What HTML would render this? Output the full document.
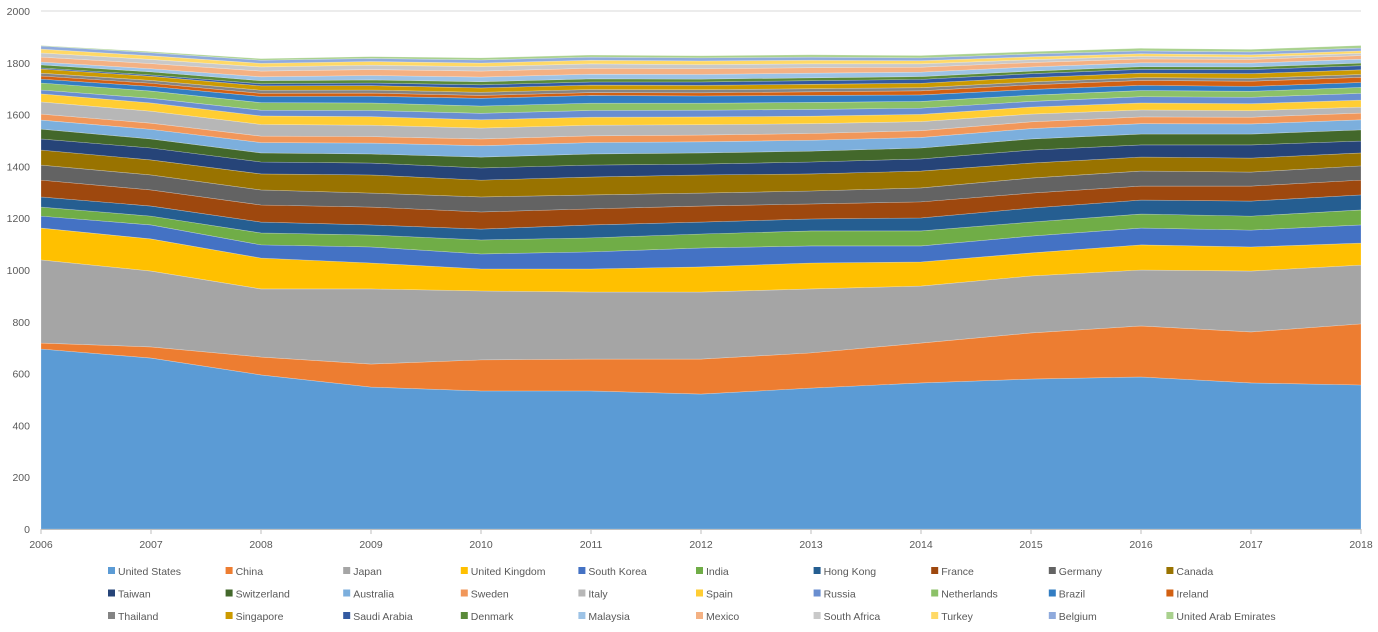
<!DOCTYPE html>
<html><head><meta charset="utf-8"><style>
body{margin:0;background:#fff;font-family:"Liberation Sans",sans-serif;}
svg text{font-family:"Liberation Sans",sans-serif;font-size:10.5px;fill:#595959;}
</style></head><body>
<svg id="chart" width="1378" height="627" xmlns="http://www.w3.org/2000/svg">
<g id="grid"></g>
<g id="areas"></g>
<g id="axes"></g>
<g id="legend"></g>
</svg>
<script>
const years=[2006,2007,2008,2009,2010,2011,2012,2013,2014,2015,2016,2017,2018];
const yTicks=[0,200,400,600,800,1000,1200,1400,1600,1800,2000];
const seriesNames=["United States","China","Japan","United Kingdom","South Korea","India","Hong Kong","France","Germany","Canada","Taiwan","Switzerland","Australia","Sweden","Italy","Spain","Russia","Netherlands","Brazil","Ireland","Thailand","Singapore","Saudi Arabia","Denmark","Malaysia","Mexico","South Africa","Turkey","Belgium","United Arab Emirates"];
const usVals=[695,660,595,548,533,533,521,544,564,579,587,564,556];
const chinaVals=[23,43,69,89,120,123,135,136,154,178,197,197,236];
const japanVals=[321,293,263,290,266,259,259,247,220,220,216,235,227];
const ukVals=[123,124,119,100,85,89,97,100,93,89,97,93,85];
const koreaVals=[46,54,51,62,58,66,73,66,62,65,65,65,70];
const indiaVals=[35,34,46,46,54,54,54,58,58,54,54,54,58];
const hkVals=[39,39,42,39,42,50,46,46,50,54,54,58,58];
const franceVals=[65,62,66,69,66,62,62,58,62,58,54,58,57];
const germanyVals=[58,58,58,54,58,54,50,50,54,58,58,54,55];
const canadaVals=[58,58,62,70,65,69,70,66,65,58,54,54,50];
const taiwanVals=[43,46,46,46,47,46,42,46,47,50,47,51,46];
const swissVals=[38,35,35,35,42,43,43,42,42,43,42,42,43];
const australiaVals=[35,37,40,42,44,44,43,42,41,40,40,39,39];
const swedenVals=[23,24,25,25,26,26,26,26,26,26,26,26,26];
const italyVals=[47,46,45,44,42,41,40,38,35,30,27,25,23];
const spainVals=[31,32,33,33,32,31,30,29,28,27,27,27,27];
const russiaVals=[15,18,22,24,25,26,26,26,24,22,24,25,26];
const netherlandsVals=[27,28,29,29,28,28,27,27,26,24,24,23,23];
const brazilVals=[15,18,24,26,30,30,28,27,25,22,20,19,19];
const irelandVals=[12,12,12,12,11,11,12,14,16,18,19,20,20];
const thailandVals=[11,11,12,12,12,12,12,12,12,11,11,11,11];
const singaporeVals=[16,16,17,17,17,17,17,17,17,17,17,18,18];
const saudiVals=[4,5,8,10,12,12,13,14,15,15,15,16,16];
const denmarkVals=[12,12,12,12,12,12,11,11,11,10,10,10,10];
const malaysiaVals=[11,12,15,17,18,18,18,18,17,16,15,15,15];
const mexicoVals=[19,20,22,23,23,23,22,21,19,17,15,14,14];
const southAfricaVals=[16,16,16,17,17,17,16,15,13,11,10,9,9];
const turkeyVals=[15,14,14,14,14,14,14,14,12,11,10,9,9];
const belgiumVals=[12,12,12,12,12,12,12,12,11,11,11,11,11];
const uaeVals=[2,4,6,7,8,8,8,9,9,9,10,10,10];
const seriesValues=[usVals,chinaVals,japanVals,ukVals,koreaVals,indiaVals,hkVals,franceVals,germanyVals,canadaVals,taiwanVals,swissVals,australiaVals,swedenVals,italyVals,spainVals,russiaVals,netherlandsVals,brazilVals,irelandVals,thailandVals,singaporeVals,saudiVals,denmarkVals,malaysiaVals,mexicoVals,southAfricaVals,turkeyVals,belgiumVals,uaeVals];
const colors=["#5B9BD5","#ED7D31","#A5A5A5","#FFC000","#4472C4","#70AD47","#255E91","#9E480E","#636363","#997300","#264478","#43682B","#7CAFDD","#F1975A","#B7B7B7","#FFCD33","#698ED0","#8CC168","#327DC2","#D26012","#848484","#CC9A00","#335AA1","#5A8A39","#9DC3E6","#F4B183","#C9C9C9","#FFD966","#8FAADC","#A9D18E"];

const NS="http://www.w3.org/2000/svg";
const X0=41,X1=1361,Y0=529,Y1=11;
function xScale(i){return X0+(X1-X0)*i/(years.length-1);}
function yScale(v){return Y0-(Y0-Y1)*v/2000;}
function mk(tag,parent,attrs){const e=document.createElementNS(NS,tag);for(const k in attrs)e.setAttribute(k,attrs[k]);parent.appendChild(e);return e;}

const grid=document.getElementById('grid');
yTicks.forEach(t=>{
  const l=mk('line',grid,{x1:X0,x2:X1,y1:yScale(t),y2:yScale(t),stroke:'#d9d9d9','stroke-width':1});
  
  
});

const areas=document.getElementById('areas');
let base=years.map(()=>0);
seriesValues.forEach((vals,s)=>{
  const top=base.map((b,i)=>b+vals[i]);
  let d='M'+years.map((_,i)=>xScale(i)+','+yScale(top[i])).join(' L');
  for(let i=years.length-1;i>=0;i--)d+=' L'+xScale(i)+','+yScale(base[i]);
  d+='Z';
  const p=mk('path',areas,{d:d,fill:colors[s],stroke:'rgba(255,255,255,0.35)','stroke-width':0.6});
  
  
  base=top;
});

const axes=document.getElementById('axes');
const xl=mk('line',axes,{x1:X0,x2:X1,y1:Y0+0.5,y2:Y0+0.5,stroke:'#bfbfbf','stroke-width':1});


yTicks.forEach(t=>{
  const tx=mk('text',axes,{x:30,y:yScale(t)+4,'text-anchor':'end'});
  tx.textContent=t;
  
  
});
years.forEach((y,i)=>{
  const tk=mk('line',axes,{x1:xScale(i),x2:xScale(i),y1:Y0,y2:Y0+5,stroke:'#bfbfbf'});
  
  
  const tx=mk('text',axes,{x:xScale(i),y:548,'text-anchor':'middle'});
  tx.textContent=y;
  
  
});

const legend=document.getElementById('legend');
seriesNames.forEach((n,s)=>{
  const col=s%10,row=Math.floor(s/10);
  const lx=108+col*117.6,ly=571+row*22.5;
  const g=mk('g',legend,{});
  
  
  mk('rect',g,{x:lx,y:ly-4,width:7,height:7,fill:colors[s]});
  const t=mk('text',g,{x:lx+10,y:ly+4});
  t.textContent=n;
});
</script>
</body></html>
